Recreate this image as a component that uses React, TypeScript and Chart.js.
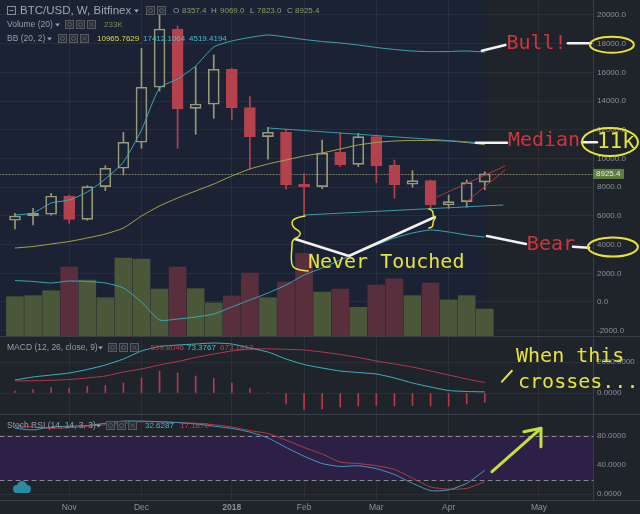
import React, { useEffect, useRef } from 'react';
import { Chart, registerables } from 'chart.js';

Chart.register(...registerables);

// ---------------- data ----------------
const monthTickIndex = [3, 7, 12, 16, 20, 24, 29];
const monthTickLabels = ['Nov', 'Dec', '2018', 'Feb', 'Mar', 'Apr', 'May'];

const opens = [5694, 5993, 6112, 7387, 5763, 8035, 9318, 11130, 14963, 19025, 13498, 13780, 16217, 13541, 11520, 11826, 8203, 8035, 10432, 9596, 11520, 9548, 8203, 8453, 6760, 6990, 8357.4];
const highs = [6181, 6530, 7575, 7450, 8100, 9499, 11826, 17680, 20400, 19234, 16400, 17213, 16300, 14307, 12175, 12035, 8969, 11290, 11798, 11757, 11638, 9896, 9151, 8500, 7457, 8502, 9069.0];
const lows = [5087, 5366, 6050, 5484, 5700, 7757, 8851, 10711, 14700, 10711, 11687, 12802, 12683, 9248, 9945, 7854, 5945, 7900, 9429, 9429, 8314, 7227, 7993, 6530, 6530, 6600, 7823.0];
const closes = [5993, 6181, 7387, 5763, 8035, 9318, 11130, 14963, 19025, 13450, 13799, 16217, 13541, 11520, 11826, 8154, 8035, 10363, 9548, 11520, 9499, 8154, 8453, 6760, 6990, 8314, 8925.4];
const volumesK = [335, 344, 385, 582, 474, 327, 657, 649, 399, 582, 402, 283, 341, 532, 327, 458, 696, 374, 399, 247, 433, 485, 344, 449, 308, 344, 233];

const bbUpper = [6063, 6202, 6899, 7108, 7666, 8572, 9757, 11987, 14914, 15541, 16447, 17771, 18189, 18433, 18607, 18468, 18293, 18154, 18050, 17910, 17736, 17597, 17492, 17443, 17457, 17492, 17412.1064];
const bbMedian = [3763, 3868, 4042, 4216, 4460, 4739, 5157, 5993, 6690, 7248, 7736, 8223, 8781, 9269, 9617, 9896, 10175, 10384, 10663, 10941, 11116, 11220, 11255, 11255, 11220, 11116, 10965.7629];
const bbLower = [1498, 1429, 1324, 1463, 1429, 1324, 976, 0, -1254, -1185, -1045, -836, -348, 139, 627, 1185, 1882, 2370, 2927, 3485, 3972, 4460, 4809, 5018, 4878, 4669, 4519.4194];

const macdLine = [839, 1032, 1161, 1290, 1516, 1806, 2193, 2709, 2999, 3096, 3161, 3225, 3161, 2903, 2645, 2193, 1838, 1613, 1419, 1322, 1226, 968, 645, 387, 161, 97, 73.3767];
const macdSignal = [774, 793, 819, 871, 968, 1097, 1355, 1548, 1806, 2032, 2290, 2516, 2709, 2838, 2851, 2819, 2774, 2645, 2483, 2290, 2064, 1871, 1677, 1419, 1161, 903, 673.1813];
const macdHist = [129, 226, 355, 323, 419, 484, 645, 968, 1419, 1290, 1097, 935, 645, 290, 32, -710, -1064, -1032, -903, -839, -806, -839, -806, -839, -839, -710, -599.8046];

const stochK = [90, 88, 92, 93, 94, 97, 100, 100, 99, 98, 96, 93, 90, 85, 77, 64, 52, 42, 38, 39, 35, 27, 15, 5, 6, 15, 32.6287];
const stochD = [94, 92, 90, 91, 93, 95, 97, 99, 99, 98, 97, 95, 92, 87, 83, 74, 64, 55, 44, 42, 39, 34, 22, 10, 7, 8, 17.187];

const priceTicks = [-2000, 0, 2000, 4000, 6000, 8000, 10000, 12000, 14000, 16000, 18000, 20000];
const macdTicks = [0, 2000];
const rsiTicks = [0, 40, 80];

// ---------------- style ----------------
const X_MIN = -0.83;
const X_MAX = 31.99;
const BG = '#1f232a';
const NAVY = '#1b2234';
const GRID = 'rgba(255,255,255,0.055)';
const SEP = '#3a3e46';
const AXIS_TXT = '#8c9098';
const UP = '#979a78';
const DOWN = '#b4424c';
const VOL_UP = '#4a5839';
const VOL_DOWN = '#5a2f3d';
const BB_BAND = '#3ea8b4';
const BB_MID = '#a9a64a';
const TEAL = '#3cb6c2';
const RED = '#b83a48';
const K_COL = '#4a98c4';
const PURPLE = '#2d2046';
const NOTE_RED = '#d2343f';
const NOTE_YEL = '#e6e43c';
const FONT = '"Liberation Sans", Arial, sans-serif';
const MONO = '"DejaVu Sans Mono", monospace';

const idx = opens.map((_, i) => i);
const isUp = idx.map((i) => closes[i] >= opens[i]);

type Pt = [number, number];

function xScaleCfg(showLabels: boolean): any {
  return {
    type: 'linear',
    min: X_MIN,
    max: X_MAX,
    offset: false,
    grid: { color: GRID, drawTicks: false, offset: false },
    border: { display: false },
    ticks: showLabels
      ? {
          display: true,
          autoSkip: false,
          maxRotation: 0,
          padding: 3,
          color: AXIS_TXT,
          font: (c: any) => ({ family: FONT, size: 8.5, weight: c.tick && c.tick.value === 12 ? 'bold' : 'normal' }),
          callback: (v: any) => {
            const k = monthTickIndex.indexOf(Number(v));
            return k >= 0 ? monthTickLabels[k] : '';
          },
        }
      : { display: false },
    afterBuildTicks: (s: any) => {
      s.ticks = monthTickIndex.map((v) => ({ value: v }));
    },
    afterFit: (s: any) => {
      s.height = showLabels ? 14 : 0;
      s.paddingLeft = 0;
      s.paddingRight = 0;
    },
  };
}

function yScaleCfg(min: number, max: number, ticks: number[], decimals: number): any {
  return {
    position: 'right',
    min,
    max,
    grid: { color: GRID, drawTicks: false },
    border: { display: true, color: SEP },
    ticks: {
      color: AXIS_TXT,
      font: { family: FONT, size: 8 },
      padding: 4,
      callback: (v: any) => Number(v).toFixed(decimals),
    },
    afterBuildTicks: (s: any) => {
      s.ticks = ticks.map((v) => ({ value: v }));
    },
    afterFit: (s: any) => {
      s.width = 47;
      s.paddingTop = 0;
      s.paddingBottom = 0;
    },
  };
}

// ---------------- drawing helpers ----------------
function polyline(ctx: CanvasRenderingContext2D, pts: Pt[], color: string, width: number, dash: number[] = []) {
  ctx.save();
  ctx.beginPath();
  pts.forEach(([px, py], k) => (k ? ctx.lineTo(px, py) : ctx.moveTo(px, py)));
  ctx.strokeStyle = color;
  ctx.lineWidth = width;
  ctx.lineCap = 'round';
  ctx.lineJoin = 'round';
  ctx.setLineDash(dash);
  ctx.stroke();
  ctx.restore();
}

function smoothCurve(ctx: CanvasRenderingContext2D, pts: Pt[], color: string, width: number) {
  ctx.save();
  ctx.beginPath();
  ctx.moveTo(pts[0][0], pts[0][1]);
  for (let k = 1; k < pts.length - 1; k++) {
    const mx = (pts[k][0] + pts[k + 1][0]) / 2;
    const my = (pts[k][1] + pts[k + 1][1]) / 2;
    ctx.quadraticCurveTo(pts[k][0], pts[k][1], mx, my);
  }
  const last = pts[pts.length - 1];
  ctx.lineTo(last[0], last[1]);
  ctx.strokeStyle = color;
  ctx.lineWidth = width;
  ctx.lineCap = 'round';
  ctx.lineJoin = 'round';
  ctx.stroke();
  ctx.restore();
}

function ellipse(ctx: CanvasRenderingContext2D, cx: number, cy: number, rx: number, ry: number, color: string) {
  ctx.save();
  ctx.beginPath();
  ctx.ellipse(cx, cy, rx, ry, 0, 0, Math.PI * 2);
  ctx.strokeStyle = color;
  ctx.lineWidth = 2;
  ctx.stroke();
  ctx.restore();
}

function text(ctx: CanvasRenderingContext2D, s: string, x: number, y: number, color: string, font: string) {
  ctx.save();
  ctx.font = font;
  ctx.fillStyle = color;
  ctx.textBaseline = 'middle';
  ctx.textAlign = 'left';
  ctx.fillText(s, x, y);
  ctx.restore();
}

function icons(ctx: CanvasRenderingContext2D, x: number, y: number, n: number) {
  ctx.save();
  for (let k = 0; k < n; k++) {
    const ix = x + k * 11;
    ctx.fillStyle = '#2b2f37';
    ctx.fillRect(ix, y - 5, 9, 9);
    ctx.strokeStyle = '#565b64';
    ctx.lineWidth = 1;
    ctx.strokeRect(ix + 0.5, y - 4.5, 8, 8);
    ctx.beginPath();
    if (k === n - 1 && n === 3) {
      ctx.moveTo(ix + 2.5, y - 2.5);
      ctx.lineTo(ix + 6.5, y + 1.5);
      ctx.moveTo(ix + 6.5, y - 2.5);
      ctx.lineTo(ix + 2.5, y + 1.5);
    } else {
      ctx.arc(ix + 4.5, y - 0.5, 2, 0, Math.PI * 2);
    }
    ctx.stroke();
  }
  ctx.restore();
}

function caret(ctx: CanvasRenderingContext2D, x: number, y: number, color: string) {
  ctx.save();
  ctx.fillStyle = color;
  ctx.beginPath();
  ctx.moveTo(x, y - 1.5);
  ctx.lineTo(x + 5, y - 1.5);
  ctx.lineTo(x + 2.5, y + 1.5);
  ctx.closePath();
  ctx.fill();
  ctx.restore();
}

const HF = `8.5px ${FONT}`;
const HV = `8px ${FONT}`;
const LABEL_COL = '#9a9ea6';
const NOTE_FONT = `20px ${MONO}`;

// annotation anchors in data units [bar index, value]
const bullLinks: Pt[][] = [[[25.84, 17513], [27.14, 17910]], [[30.6, 18029], [31.88, 18029]]];
const medianLinks: Pt[][] = [[[25.51, 11102], [27.23, 11102]], [[31.38, 11130], [32.21, 11130]]];
const bearLinks: Pt[][] = [[[26.12, 4600], [28.28, 4042]], [[30.88, 3854], [31.77, 3784]]];
const neverLinks: Pt[] = [[15.5, 4390], [18.48, 3206], [23.24, 5924]];
const resistanceLine: Pt[] = [[14.0, 12126], [25.9, 11081]];
const supportLine: Pt[] = [[15.99, 6063], [27.0, 6760]];
const wedgeLines: Pt[][] = [[[23.35, 7317], [27.12, 9478]], [[25.0, 7000], [27.12, 9199]]];
const braceBig: Pt = [15.5, 4320];
const braceSmall: Pt = [23.13, 5854];

const mainPlugin = {
  id: 'mainDecor',
  beforeDraw(chart: any) {
    const { ctx, chartArea: a, scales } = chart;
    ctx.save();
    ctx.fillStyle = BG;
    ctx.fillRect(0, 0, chart.width, chart.height);
    const xr = scales.x.getPixelForValue(opens.length - 1);
    ctx.fillStyle = NAVY;
    ctx.fillRect(a.left, a.top, xr - a.left, a.bottom - a.top);
    ctx.restore();
  },
  beforeDatasetsDraw(chart: any) {
    const { ctx, chartArea: a, scales } = chart;
    const cy = Math.round(scales.y.getPixelForValue(closes[closes.length - 1])) + 0.5;
    polyline(ctx, [[a.left, cy], [a.right, cy]], '#7f806a', 1, [1, 2]);
  },
  afterDatasetsDraw(chart: any) {
    const { ctx, scales } = chart;
    const P = (p: Pt): Pt => [scales.x.getPixelForValue(p[0]), scales.y.getPixelForValue(p[1])];
    polyline(ctx, resistanceLine.map(P), '#3b9aa6', 1);
    polyline(ctx, supportLine.map(P), '#3b9aa6', 1);
    wedgeLines.forEach((l) => polyline(ctx, l.map(P), '#b8323e', 1));
  },
  afterDraw(chart: any) {
    const { ctx, chartArea: a, scales } = chart;
    const P = (p: Pt): Pt => [scales.x.getPixelForValue(p[0]), scales.y.getPixelForValue(p[1])];

    // header
    ctx.save();
    ctx.strokeStyle = '#8a8e96';
    ctx.strokeRect(7.5, 6.5, 8, 8);
    ctx.beginPath();
    ctx.moveTo(9.5, 10.5);
    ctx.lineTo(13.5, 10.5);
    ctx.stroke();
    ctx.restore();
    text(ctx, 'BTC/USD, W, Bitfinex', 20, 11, '#a3a7ae', `11.5px ${FONT}`);
    caret(ctx, 134, 11, '#a3a7ae');
    icons(ctx, 146, 11, 2);
    const OLV = '#8f9b64';
    text(ctx, 'O', 173, 11, LABEL_COL, HV);
    text(ctx, '8357.4', 182, 11, OLV, HV);
    text(ctx, 'H', 211, 11, LABEL_COL, HV);
    text(ctx, '9069.0', 220, 11, OLV, HV);
    text(ctx, 'L', 250, 11, LABEL_COL, HV);
    text(ctx, '7823.0', 257, 11, OLV, HV);
    text(ctx, 'C', 287, 11, LABEL_COL, HV);
    text(ctx, '8925.4', 295, 11, OLV, HV);

    text(ctx, 'Volume (20)', 7, 25, LABEL_COL, HF);
    caret(ctx, 55, 25, LABEL_COL);
    icons(ctx, 65, 25, 3);
    text(ctx, '233K', 104, 25, '#7d8a55', HV);

    text(ctx, 'BB (20, 2)', 7, 39, LABEL_COL, HF);
    caret(ctx, 47, 39, LABEL_COL);
    icons(ctx, 58, 39, 3);
    text(ctx, '10965.7629', 97, 39, '#d9d748', HV);
    text(ctx, '17412.1064', 143, 39, '#45bcc8', HV);
    text(ctx, '4519.4194', 189, 39, '#45bcc8', HV);

    // last price label
    const cy = scales.y.getPixelForValue(closes[closes.length - 1]);
    ctx.save();
    ctx.fillStyle = '#5f7d40';
    ctx.fillRect(a.right, cy - 5, 31, 10);
    ctx.restore();
    text(ctx, '8925.4', a.right + 3, cy, '#e6ead8', `8px ${FONT}`);

    // annotations
    const WHITE = '#f2f2f2';
    [...bullLinks, ...medianLinks, ...bearLinks].forEach((l) => polyline(ctx, l.map(P), WHITE, 2.5));
    polyline(ctx, neverLinks.map(P), WHITE, 2.5);

    const bt = P([27.2, 17980]);
    text(ctx, 'Bull!', bt[0], bt[1], NOTE_RED, NOTE_FONT);
    const be = P([32.98, 18000]);
    ellipse(ctx, be[0] + 1, be[1] + 1, 22, 8, NOTE_YEL);

    const mt = P([27.28, 11220]);
    text(ctx, 'Median', mt[0], mt[1], NOTE_RED, NOTE_FONT);
    const me = P([32.93, 11150]);
    ellipse(ctx, me[0], me[1], 28, 14, NOTE_YEL);
    const kt = P([32.21, 11102]);
    text(ctx, '11k', kt[0], kt[1], NOTE_YEL, `21px ${MONO}`);

    const brt = P([28.33, 3972]);
    text(ctx, 'Bear', brt[0], brt[1], NOTE_RED, NOTE_FONT);
    const bre = P([33.09, 3833]);
    ellipse(ctx, bre[0], bre[1], 25, 9.5, NOTE_YEL);

    const nt = P([16.21, 2718]);
    text(ctx, 'Never Touched', nt[0], nt[1], NOTE_YEL, NOTE_FONT);

    const b1 = P(braceBig);
    smoothCurve(
      ctx,
      ([[10, -24], [-3, -22], [-3, -13], [6, -8], [4, -3], [-3, 0], [-3, 7], [-4, 17], [-3, 27], [4, 30], [13, 31]] as Pt[]).map(
        ([dx, dy]) => [b1[0] + dx, b1[1] + dy] as Pt
      ),
      NOTE_YEL,
      1.5
    );
    const b2 = P(braceSmall);
    smoothCurve(
      ctx,
      ([[-4, -9], [0, -8], [0, -2], [3, 0], [0, 3], [0, 9], [-4, 10]] as Pt[]).map(([dx, dy]) => [b2[0] + dx, b2[1] + dy] as Pt),
      NOTE_YEL,
      1.5
    );

    // separator
    polyline(ctx, [[0, chart.height - 0.5], [chart.width, chart.height - 0.5]], SEP, 1);
  },
};

const macdPlugin = {
  id: 'macdDecor',
  beforeDraw(chart: any) {
    const { ctx } = chart;
    ctx.save();
    ctx.fillStyle = BG;
    ctx.fillRect(0, 0, chart.width, chart.height);
    ctx.restore();
  },
  afterDraw(chart: any) {
    const { ctx, scales } = chart;
    const P = (p: Pt): Pt => [scales.x.getPixelForValue(p[0]), scales.y.getPixelForValue(p[1])];
    text(ctx, 'MACD (12, 26, close, 9)', 7, 11, LABEL_COL, HF);
    caret(ctx, 98, 11, LABEL_COL);
    icons(ctx, 108, 11, 3);
    text(ctx, '-599.8046', 148, 11, '#c4404c', HV);
    text(ctx, '73.3767', 187, 11, '#45bcc8', HV);
    text(ctx, '673.1813', 220, 11, '#c4404c', HV);

    const w1 = P([27.73, 2322]);
    text(ctx, 'When this', w1[0], w1[1], NOTE_YEL, NOTE_FONT);
    const w2 = P([27.84, 645]);
    text(ctx, 'crosses...', w2[0], w2[1], NOTE_YEL, NOTE_FONT);
    polyline(ctx, ([[26.95, 729], [27.5, 1438]] as Pt[]).map(P), NOTE_YEL, 2);

    polyline(ctx, [[0, chart.height - 0.5], [chart.width, chart.height - 0.5]], SEP, 1);
  },
};

const rsiPlugin = {
  id: 'rsiDecor',
  beforeDraw(chart: any) {
    const { ctx } = chart;
    ctx.save();
    ctx.fillStyle = BG;
    ctx.fillRect(0, 0, chart.width, chart.height);
    ctx.restore();
  },
  beforeDatasetsDraw(chart: any) {
    const { ctx, chartArea: a, scales } = chart;
    const y80 = scales.y.getPixelForValue(80);
    const y20 = scales.y.getPixelForValue(20);
    ctx.save();
    ctx.fillStyle = PURPLE;
    ctx.fillRect(a.left, y80, a.right - a.left, y20 - y80);
    ctx.restore();
    polyline(ctx, [[a.left, Math.round(y80) + 0.5], [a.right, Math.round(y80) + 0.5]], '#8a8898', 1, [4, 4]);
    polyline(ctx, [[a.left, Math.round(y20) + 0.5], [a.right, Math.round(y20) + 0.5]], '#8a8898', 1, [4, 4]);
  },
  afterDraw(chart: any) {
    const { ctx, chartArea: a, scales } = chart;
    const P = (p: Pt): Pt => [scales.x.getPixelForValue(p[0]), scales.y.getPixelForValue(p[1])];
    text(ctx, 'Stoch RSI (14, 14, 3, 3)', 7, 11, LABEL_COL, HF);
    caret(ctx, 96, 11, LABEL_COL);
    icons(ctx, 106, 11, 3);
    text(ctx, '32.6287', 145, 11, '#45bcc8', HV);
    text(ctx, '17.1870', 180, 11, '#c4404c', HV);

    // logo
    ctx.save();
    ctx.fillStyle = '#2a8aa4';
    ctx.beginPath();
    ctx.arc(17, 74, 4, 0, Math.PI * 2);
    ctx.arc(22, 71, 5, 0, Math.PI * 2);
    ctx.arc(27, 74, 4, 0, Math.PI * 2);
    ctx.fill();
    ctx.fillRect(15, 74, 14, 4);
    ctx.restore();

    const arrowCol = '#c4e03a';
    polyline(ctx, ([[26.4, 30.9], [29.11, 90.1]] as Pt[]).map(P), arrowCol, 3);
    polyline(ctx, ([[28.17, 85.5], [29.11, 90.1], [29.11, 65]] as Pt[]).map(P), arrowCol, 3);

    polyline(ctx, [[0, a.bottom + 0.5], [chart.width, a.bottom + 0.5]], SEP, 1);
  },
};

function baseOptions(scales: any): any {
  return {
    animation: false,
    responsive: false,
    maintainAspectRatio: false,
    events: [],
    layout: { padding: 0 },
    plugins: { legend: { display: false }, tooltip: { enabled: false }, title: { display: false } },
    scales,
  };
}

export default function App() {
  const mainRef = useRef<HTMLCanvasElement | null>(null);
  const macdRef = useRef<HTMLCanvasElement | null>(null);
  const rsiRef = useRef<HTMLCanvasElement | null>(null);

  useEffect(() => {
    const charts: Chart[] = [];

    charts.push(
      new Chart(mainRef.current as HTMLCanvasElement, {
        type: 'bar',
        data: {
          datasets: [
            {
              type: 'bar',
              label: 'Volume',
              yAxisID: 'vol',
              data: idx.map((i) => ({ x: i, y: volumesK[i] })) as any,
              backgroundColor: idx.map((i) => (isUp[i] ? VOL_UP : VOL_DOWN)),
              barThickness: 17,
              grouped: false,
              order: 10,
            } as any,
            {
              type: 'bar',
              label: 'Upper wick',
              yAxisID: 'y',
              data: idx.map((i) => ({ x: i, y: [Math.max(opens[i], closes[i]), highs[i]] })) as any,
              backgroundColor: idx.map((i) => (isUp[i] ? UP : DOWN)),
              barThickness: 1,
              grouped: false,
              order: 4,
            } as any,
            {
              type: 'bar',
              label: 'Lower wick',
              yAxisID: 'y',
              data: idx.map((i) => ({ x: i, y: [lows[i], Math.min(opens[i], closes[i])] })) as any,
              backgroundColor: idx.map((i) => (isUp[i] ? UP : DOWN)),
              barThickness: 1,
              grouped: false,
              order: 4,
            } as any,
            {
              type: 'bar',
              label: 'Body',
              yAxisID: 'y',
              data: idx.map((i) => ({ x: i, y: [opens[i], closes[i]] })) as any,
              backgroundColor: idx.map((i) => (isUp[i] ? 'rgba(0,0,0,0)' : DOWN)),
              borderColor: idx.map((i) => (isUp[i] ? UP : DOWN)),
              borderWidth: 1,
              borderSkipped: false,
              barThickness: 11,
              grouped: false,
              order: 3,
            } as any,
            {
              type: 'line',
              label: 'BB upper',
              yAxisID: 'y',
              data: idx.map((i) => ({ x: i, y: bbUpper[i] })),
              borderColor: BB_BAND,
              borderWidth: 1,
              pointRadius: 0,
              tension: 0.2,
              order: 1,
            } as any,
            {
              type: 'line',
              label: 'BB basis',
              yAxisID: 'y',
              data: idx.map((i) => ({ x: i, y: bbMedian[i] })),
              borderColor: BB_MID,
              borderWidth: 1,
              pointRadius: 0,
              tension: 0.2,
              order: 1,
            } as any,
            {
              type: 'line',
              label: 'BB lower',
              yAxisID: 'y',
              data: idx.map((i) => ({ x: i, y: bbLower[i] })),
              borderColor: BB_BAND,
              borderWidth: 1,
              pointRadius: 0,
              tension: 0.2,
              order: 1,
            } as any,
          ],
        },
        options: baseOptions({
          x: xScaleCfg(false),
          y: yScaleCfg(-2439, 21045, priceTicks, 1),
          vol: { display: false, min: 0, max: 2804, position: 'left' },
        }),
        plugins: [mainPlugin],
      } as any)
    );

    charts.push(
      new Chart(macdRef.current as HTMLCanvasElement, {
        type: 'bar',
        data: {
          datasets: [
            {
              type: 'bar',
              label: 'Histogram',
              data: idx.map((i) => ({ x: i, y: macdHist[i] })) as any,
              backgroundColor: RED,
              barThickness: 1,
              grouped: false,
              order: 3,
            } as any,
            {
              type: 'line',
              label: 'MACD',
              data: idx.map((i) => ({ x: i, y: macdLine[i] })),
              borderColor: TEAL,
              borderWidth: 1,
              pointRadius: 0,
              tension: 0.2,
              order: 1,
            } as any,
            {
              type: 'line',
              label: 'Signal',
              data: idx.map((i) => ({ x: i, y: macdSignal[i] })),
              borderColor: RED,
              borderWidth: 1,
              pointRadius: 0,
              tension: 0.2,
              order: 2,
            } as any,
          ],
        },
        options: baseOptions({
          x: xScaleCfg(false),
          y: yScaleCfg(-1419, 3613, macdTicks, 4),
        }),
        plugins: [macdPlugin],
      } as any)
    );

    charts.push(
      new Chart(rsiRef.current as HTMLCanvasElement, {
        type: 'line',
        data: {
          datasets: [
            {
              label: '%D',
              data: idx.map((i) => ({ x: i, y: stochD[i] })),
              borderColor: RED,
              borderWidth: 1,
              pointRadius: 0,
              tension: 0.2,
              order: 2,
            },
            {
              label: '%K',
              data: idx.map((i) => ({ x: i, y: stochK[i] })),
              borderColor: K_COL,
              borderWidth: 1,
              pointRadius: 0,
              tension: 0.2,
              order: 1,
            },
          ],
        },
        options: baseOptions({
          x: xScaleCfg(true),
          y: yScaleCfg(-7.8, 108.3, rsiTicks, 4),
        }),
        plugins: [rsiPlugin],
      } as any)
    );

    return () => charts.forEach((c) => c.destroy());
  }, []);

  const canvasStyle = (top: number): React.CSSProperties => ({ position: 'absolute', left: 0, top, display: 'block' });

  return (
    <div style={{ position: 'fixed', left: 0, top: 0, width: 640, height: 514, background: BG, overflow: 'hidden' }}>
      <canvas ref={mainRef} width={640} height={337} style={canvasStyle(0)} />
      <canvas ref={macdRef} width={640} height={78} style={canvasStyle(337)} />
      <canvas ref={rsiRef} width={640} height={99} style={canvasStyle(415)} />
    </div>
  );
}
